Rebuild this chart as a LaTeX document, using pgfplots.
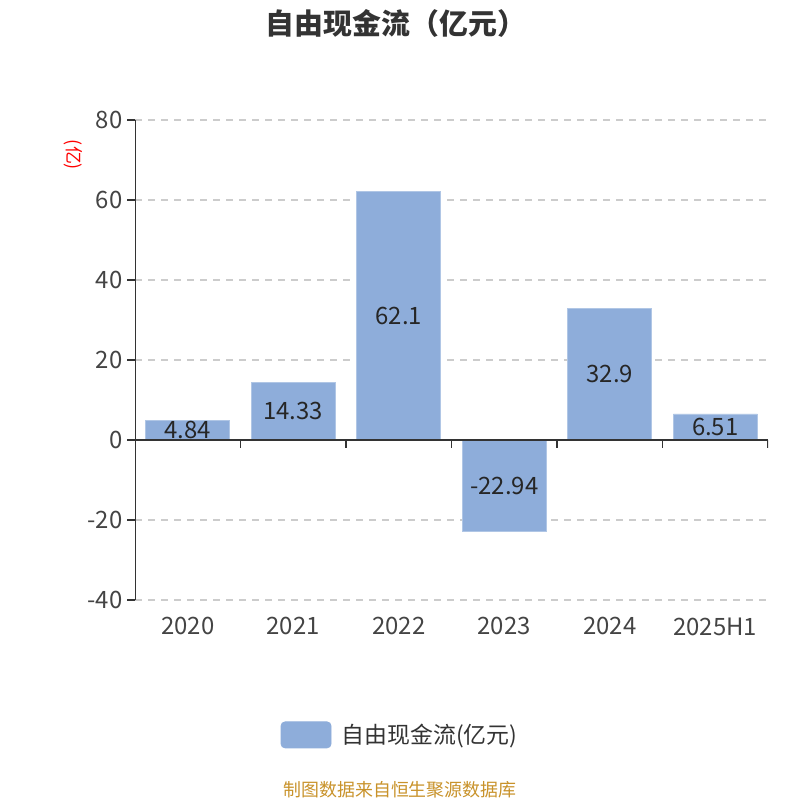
\documentclass[border=0pt]{standalone}
\usepackage{fontspec}
\setmainfont{Noto Sans CJK SC}
\usepackage{pgfplots}
\pgfplotsset{compat=1.18}
\definecolor{barblue}{HTML}{8EADDA}
\definecolor{axisgray}{HTML}{333333}
\definecolor{gridgray}{HTML}{CCCCCC}
\definecolor{labelgray}{HTML}{444444}
\definecolor{footgold}{HTML}{C8922A}

\begin{document}
\begin{tikzpicture}[x=1bp,y=1bp]
\useasboundingbox (0,0) rectangle (800,800);

\node[font=\fontsize{29}{32}\selectfont\bfseries, text=axisgray] at (396,777) {自由现金流（亿元）};
\node[font=\fontsize{18}{20}\selectfont, text=red, rotate=-90] at (73,645) {(亿)};
\node[font=\fontsize{18}{20}\selectfont, text=footgold] at (400,10) {制图数据来自恒生聚源数据库};

\begin{axis}[
  at={(135bp,200bp)}, anchor=south west,
  width=633bp, height=480bp, scale only axis,
  xmin=-0.5, xmax=5.5, ymin=-40, ymax=80,
  axis line style={draw=none},
  ybar, bar width=84bp,
  xtick={0,...,5},
  xticklabels={2020,2021,2022,2023,2024,2025H1},
  ytick={-40,-20,...,80},
  ymajorgrids,
  grid style={gridgray, line width=1.2bp, dash pattern=on 7bp off 6bp},
  major x tick style={draw=none},
  ytick pos=left,
  tick align=outside,
  major tick length=8bp,
  major y tick style={axisgray, line width=1.5bp},
  /pgf/number format/assume math mode=true,
  xticklabel style={font=\fontsize{24}{26}\selectfont, text=labelgray, yshift=-6bp},
  yticklabel style={font=\fontsize{24}{26}\selectfont, text=labelgray, xshift=-1bp},
  visualization depends on=rawy \as \rawy,
  nodes near coords,
  every node near coord/.append style={font=\fontsize{24}{26}\selectfont, text=black!85, anchor=center, yshift={-2.0075*(\rawy)}},
  legend style={at={(0.4186,-0.281)}, anchor=center, draw=none, fill=none,
    font=\fontsize{23}{26}\selectfont, text=axisgray,
    /tikz/every even column/.append style={column sep=2bp}},
  legend image code/.code={\fill[barblue, rounded corners=4bp] (-4bp,-13bp) rectangle (46bp,13bp);},
]
\addplot[fill=barblue, draw=barblue!70!white, line width=0.8bp] coordinates {
  (0,4.84) (1,14.33) (2,62.1) (3,-22.94) (4,32.9) (5,6.51)
};
\addlegendentry{\hspace{8bp}自由现金流(亿元)}
\draw[axisgray, line width=1.5bp] (axis cs:-0.5,80) -- (axis cs:-0.5,-40);
\draw[axisgray, line width=1.5bp] (axis cs:-0.5,0) -- (axis cs:5.5,0);
\pgfplotsinvokeforeach{0.5,1.5,2.5,3.5,4.5,5.5}{
  \draw[axisgray, line width=1.5bp] (axis cs:#1,0) -- ([yshift=-8bp]axis cs:#1,0);
}
\end{axis}
\end{tikzpicture}
\end{document}
